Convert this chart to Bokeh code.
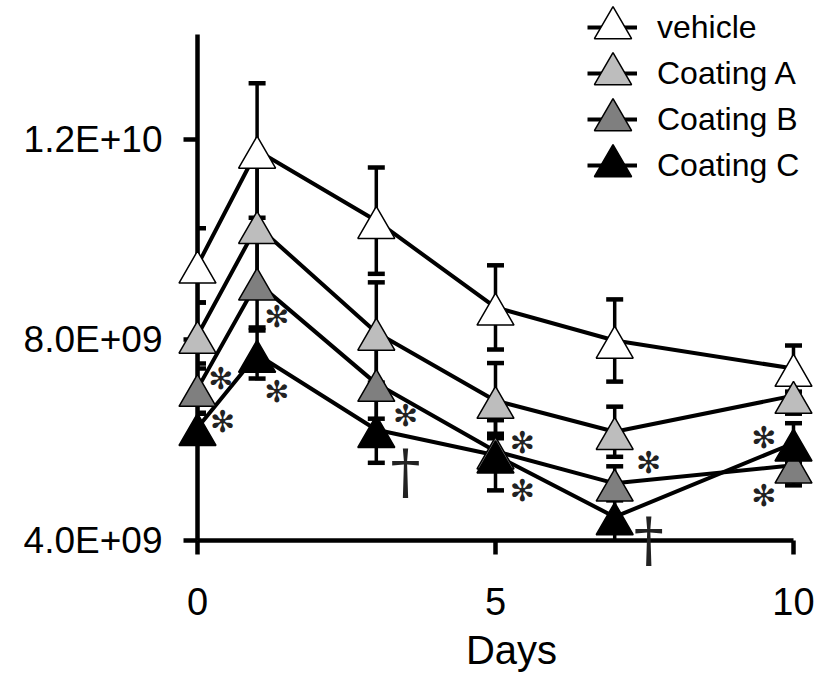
from bokeh.plotting import figure
from bokeh.models import Range1d, FixedTicker, Whisker, ColumnDataSource, Legend, LegendItem, TeeHead
from bokeh.transform import dodge
from bokeh.core.properties import value
from bokeh.embed import file_html
from bokeh.resources import INLINE

# ---- data ----
days = [0, 1, 3, 5, 7, 10]
series_names = ["vehicle", "Coating A", "Coating B", "Coating C"]
vehicle = [9.49e9, 11.78e9, 10.38e9, 8.65e9, 7.99e9, 7.43e9]
vehicle_sd = [0.74e9, 1.34e9, 1.06e9, 0.84e9, 0.82e9, 0.46e9]
coating_a = [8.09e9, 10.28e9, 8.15e9, 6.79e9, 6.17e9, 6.89e9]
coating_a_sd = [0.66e9, 1.30e9, 1.00e9, 0.75e9, 0.50e9, 0.36e9]
coating_b = [7.03e9, 9.15e9, 7.13e9, 5.78e9, 5.14e9, 5.50e9]
coating_b_sd = [0.50e9, 0.90e9, 0.70e9, 0.35e9, 0.34e9, 0.40e9]
coating_c = [6.25e9, 7.71e9, 6.21e9, 5.70e9, 4.47e9, 5.94e9]
coating_c_sd = [0.30e9, 0.48e9, 0.66e9, 0.70e9, 0.50e9, 0.40e9]

y_ticks = [4e9, 8e9, 1.2e10]
y_tick_labels = ["4.0E+09", "8.0E+09", "1.2E+10"]
x_ticks = [0, 5, 10]

# significance marks (asterisks and daggers)
star_x = [0.39, 0.42, 1.33, 1.33, 3.49, 5.45, 5.45, 7.57, 9.50, 9.50]
star_y = [7.23e9, 6.37e9, 8.47e9, 6.97e9, 6.49e9, 5.96e9, 5.00e9, 5.56e9, 6.05e9, 4.90e9]
dagger_x = [3.49, 7.57]
dagger_y = [5.38e9, 4.02e9]

colors = ["white", "#bdbdbd", "#7f7f7f", "black"]
means = [vehicle, coating_a, coating_b, coating_c]
sds = [vehicle_sd, coating_a_sd, coating_b_sd, coating_c_sd]

FONT = "Liberation Sans"

p = figure(width=825, height=674, output_backend="svg", toolbar_location=None,
           x_range=Range1d(0, 10.537), y_range=Range1d(4e9, 1.4773e10),
           min_border_left=197, min_border_right=0, min_border_top=0, min_border_bottom=134)
p.outline_line_color = None
p.xgrid.visible = False
p.ygrid.visible = False

# axes
for ax in (p.xaxis[0], p.yaxis[0]):
    ax.axis_line_width = 4.5
    ax.major_tick_line_width = 4.5
    ax.major_tick_out = 14
    ax.major_tick_in = 0
    ax.minor_tick_out = 0
    ax.minor_tick_in = 0
    ax.major_label_text_font = FONT
    ax.major_label_text_color = "black"

p.yaxis.ticker = FixedTicker(ticks=y_ticks)
p.yaxis.major_label_overrides = {int(t): l for t, l in zip(y_ticks, y_tick_labels)}
p.yaxis.bounds = (4e9, 1.41e10)
p.yaxis.major_label_text_font_size = "37px"
p.yaxis.major_label_standoff = 21

p.xaxis.ticker = FixedTicker(ticks=x_ticks)
p.xaxis.bounds = (0, 10)
p.xaxis.major_label_text_font_size = "38px"
p.xaxis.major_label_standoff = 33
p.xaxis.axis_label = "Days"
p.xaxis.axis_label_text_font = FONT
p.xaxis.axis_label_text_font_size = "40px"
p.xaxis.axis_label_text_font_style = "normal"
p.xaxis.axis_label_standoff = 10
p.xaxis.axis_label_text_color = "black"

# error bars (beneath everything else)
sources = []
for m, s in zip(means, sds):
    src = ColumnDataSource(dict(x=days, y=m,
                                upper=[a + b for a, b in zip(m, s)],
                                lower=[a - b for a, b in zip(m, s)]))
    sources.append(src)
    w = Whisker(base="x", upper="upper", lower="lower", source=src, dimension="height",
                line_color="black", line_width=3.5, level="annotation",
                upper_head=TeeHead(size=17, line_width=4.5, line_color="black"),
                lower_head=TeeHead(size=17, line_width=4.5, line_color="black"))
    p.add_layout(w)

line_rs = []
for src in sources:
    line_rs.append(p.line(x="x", y="y", source=src, line_color="black", line_width=4,
                          level="annotation"))

mark_rs = []
for src, c in zip(sources, colors):
    mark_rs.append(p.scatter(x="x", y=dodge("y", -1.4e8), source=src, marker="triangle",
                             size=37, fill_color=c, line_color="black", line_width=1.5,
                             level="overlay"))

p.text(x=star_x, y=star_y, text=["✻"] * len(star_x), text_font=value("DejaVu Sans"),
       text_font_size="30px", text_align="center", text_baseline="middle",
       text_color="#222222", level="overlay")
p.text(x=dagger_x, y=dagger_y, text=["†"] * len(dagger_x), text_font=value("DejaVu Serif"),
       text_font_size="60px", text_align="center", text_baseline="middle",
       text_color="#222222", level="overlay")

# legend: lines + labels
legend_lines = Legend(items=[LegendItem(label=n, renderers=[lr])
                             for n, lr in zip(series_names, line_rs)],
                      location=(390, 355), glyph_width=50, glyph_height=40, spacing=6,
                      padding=0, margin=0, label_standoff=20,
                      label_text_font=FONT, label_text_font_size="32px", label_text_color="black",
                      border_line_color=None, background_fill_alpha=0)
p.add_layout(legend_lines)

# legend: full-size triangle markers over the line swatches, one small legend per row
ROW_PITCH = 46
for i, mr in enumerate(mark_rs):
    lg = Legend(items=[LegendItem(label=" ", renderers=[mr])],
                location=(368.5, 466.5 - i * ROW_PITCH), glyph_width=93, glyph_height=93,
                padding=0, margin=0, label_standoff=0,
                label_text_font=FONT, label_text_font_size="10px",
                border_line_color=None, background_fill_alpha=0)
    p.add_layout(lg)

open("out.html", "w").write(file_html(p, INLINE))
